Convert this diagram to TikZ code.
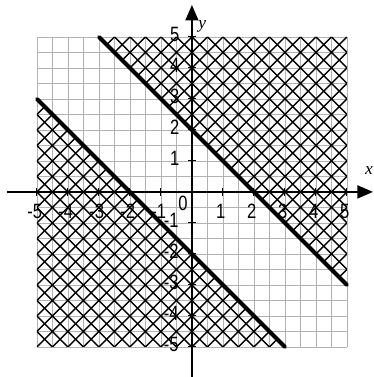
\documentclass[tikz,border=0pt]{standalone}
\usepackage{fontspec}
\setmainfont{Liberation Sans}
\newfontfamily\labfont[FakeStretch=0.8]{Liberation Sans}
\newfontfamily\varfont{Liberation Serif}
\usetikzlibrary{arrows.meta}
\begin{document}
\begin{tikzpicture}[x=1cm,y=1cm,
  gridline/.style={gray!60, line width=0.55pt},
  hatchline/.style={black, line width=1.3pt},
  boundary/.style={black, line width=3.6pt, line cap=round},
  axisline/.style={black, line width=1.4pt},
  tickmark/.style={black, line width=1pt},
  ticklab/.style={font=\labfont\fontsize{19}{19}\selectfont, inner sep=0pt},
  varlab/.style={font=\varfont\itshape\fontsize{16}{16}\selectfont, inner sep=0pt},
]
\useasboundingbox (-6.19,-5.97) rectangle (5.87,6.19);
% grid
\draw[gridline] (-5,-5) grid[step=0.5] (5,5);
% hatched region above upper line
\begin{scope}
  \clip (-3,5) -- (5,5) -- (5,-3) -- cycle;
  \foreach \k in {-20,...,20} {
    \draw[hatchline] (-5,{-5-\k/2}) -- (5,{5-\k/2});
    \draw[hatchline] (-5,{5+\k/2}) -- (5,{-5+\k/2});
  }
\end{scope}
% hatched region below lower line
\begin{scope}
  \clip (-5,3) -- (-5,-5) -- (3,-5) -- cycle;
  \foreach \k in {-20,...,20} {
    \draw[hatchline] (-5,{-5-\k/2}) -- (5,{5-\k/2});
    \draw[hatchline] (-5,{5+\k/2}) -- (5,{-5+\k/2});
  }
\end{scope}
% axes
\coordinate (xl) at (-5.97,0);
\coordinate (xr) at (5.84,0);
\coordinate (yb) at (0,-5.97);
\coordinate (yt) at (0,6.03);
\draw[axisline,-{Triangle[length=0.5cm,width=0.42cm]}] (xl) -- (xr);
\draw[axisline,-{Triangle[length=0.5cm,width=0.42cm]}] (yb) -- (yt);
% ticks
\foreach \v in {-5,...,-1,1,2,3,4,5} {
  \draw[tickmark] (\v,-0.12) -- (\v,0.12);
  \draw[tickmark] (-0.12,\v) -- (0.12,\v);
}
% boundary lines
\coordinate (a1) at (-3,5);
\coordinate (a2) at (5,-3);
\coordinate (b1) at (-5,3);
\coordinate (b2) at (3,-5);
\draw[boundary] (a1) -- (a2);
\draw[boundary] (b1) -- (b2);
% labels
\foreach \v in {-5,...,-1} {
  \node[ticklab] (xlab\v) at ({\v-0.07},-0.62) {-\the\numexpr-\v\relax};
  \node[ticklab,anchor=east] (ylab\v) at (-0.42,{\v+0.08}) {-\the\numexpr-\v\relax};
}
\foreach \v in {1,...,5} {
  \node[ticklab] (xlab\v) at ({\v-0.07},-0.62) {\v};
  \node[ticklab,anchor=east] (ylab\v) at (-0.4,{\v+0.08}) {\v};
}
\node[ticklab] (zero) at (-0.29,-0.36) {0};
\node[varlab] (xname) at (5.71,0.68) {x};
\node[varlab] (yname) at (0.33,5.35) {y};
\end{tikzpicture}
\end{document}
